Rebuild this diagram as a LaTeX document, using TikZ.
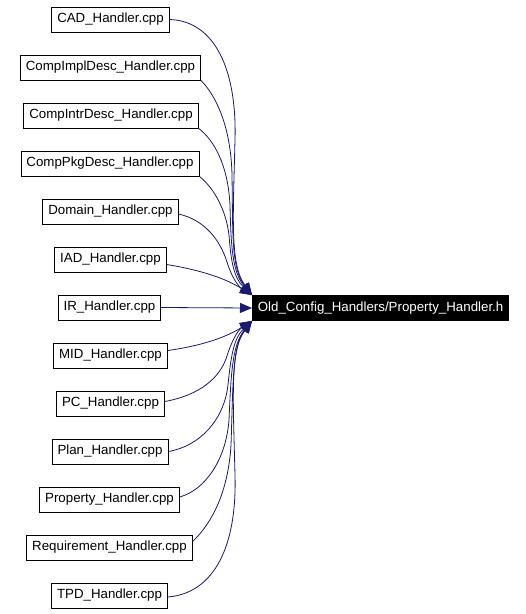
\documentclass[tikz,border=0pt]{standalone}
\usepackage{fontspec}
\setmainfont{Liberation Sans}
\usetikzlibrary{arrows.meta}
\definecolor{edgeblue}{HTML}{191970}

\begin{document}
\begin{tikzpicture}[x=1pt,y=-1pt, >={Triangle[length=12pt,width=10pt]}, file/.style={rectangle,draw=black,line width=0.8pt,inner xsep=5.5pt,inner ysep=0pt,minimum height=25pt,font=\fontsize{13.3}{16}\selectfont}, dep/.style={->,draw=edgeblue,line width=0.8pt}]
\useasboundingbox (0,0) rectangle (526,614);
\node (cad) at (110.5,19.5) [file] {CAD\_Handler.cpp};
\node (impl) at (110.5,67.5) [file] {CompImplDesc\_Handler.cpp};
\node (intr) at (111,115.5) [file] {CompIntrDesc\_Handler.cpp};
\node (pkg) at (110,163.5) [file] {CompPkgDesc\_Handler.cpp};
\node (domain) at (110.5,211.5) [file] {Domain\_Handler.cpp};
\node (iad) at (110.5,259.5) [file] {IAD\_Handler.cpp};
\node (ir) at (109.5,307.5) [file] {IR\_Handler.cpp};
\node (mid) at (110.5,355.5) [file] {MID\_Handler.cpp};
\node (pc) at (110.5,403.5) [file] {PC\_Handler.cpp};
\node (plan) at (110,451.5) [file] {Plan\_Handler.cpp};
\node (prop) at (109.5,499.5) [file] {Property\_Handler.cpp};
\node (req) at (109.5,547.5) [file] {Requirement\_Handler.cpp};
\node (tpd) at (109.5,595.5) [file] {TPD\_Handler.cpp};
\node (target) at (252,308) [file,anchor=west,fill=black,text=white] {Old\_Config\_Handlers/Property\_Handler.h};
\draw[dep] (cad.east) .. controls (215,21) and (237,70) .. (235,140) .. controls (233,220) and (230,265) .. (target.north west);
\draw[dep] (impl.south east) .. controls (218,98) and (231,130) .. (232,175) .. controls (233,235) and (231,268) .. (target.north west);
\draw[dep] (intr.south east) .. controls (214,140) and (228,165) .. (230,205) .. controls (231,245) and (232,272) .. (target.north west);
\draw[dep] (pkg.south east) .. controls (214,188) and (226,210) .. (229,235) .. controls (231,262) and (234,278) .. (target.north west);
\draw[dep] ([yshift=-2.5pt]domain.east) .. controls (205,220) and (220,240) .. (227,262) .. controls (232,278) and (238,286) .. (target.north west);
\draw[dep] ([yshift=-5pt]iad.east) .. controls (200,270) and (225,278) .. (target.north west);
\draw[dep] (ir.east) -- (target.west);
\draw[dep] ([yshift=5pt]mid.east) .. controls (200,346) and (225,338) .. (target.south west);
\draw[dep] ([yshift=2pt]pc.east) .. controls (200,395) and (220,378) .. (227,356) .. controls (232,340) and (238,330) .. (target.south west);
\draw[dep] (plan.east) .. controls (200,446) and (224,420) .. (228,385) .. controls (231,355) and (234,338) .. (target.south west);
\draw[dep] ([yshift=2.5pt]prop.east) .. controls (205,490) and (226,460) .. (229,420) .. controls (231,375) and (232,345) .. (target.south west);
\draw[dep] ([yshift=6pt]req.east) .. controls (210,525) and (228,495) .. (231,445) .. controls (233,390) and (232,345) .. (target.south west);
\draw[dep] ([yshift=-1.5pt]tpd.east) .. controls (215,593) and (237,545) .. (235,475) .. controls (233,395) and (230,350) .. (target.south west);
\end{tikzpicture}
\end{document}
